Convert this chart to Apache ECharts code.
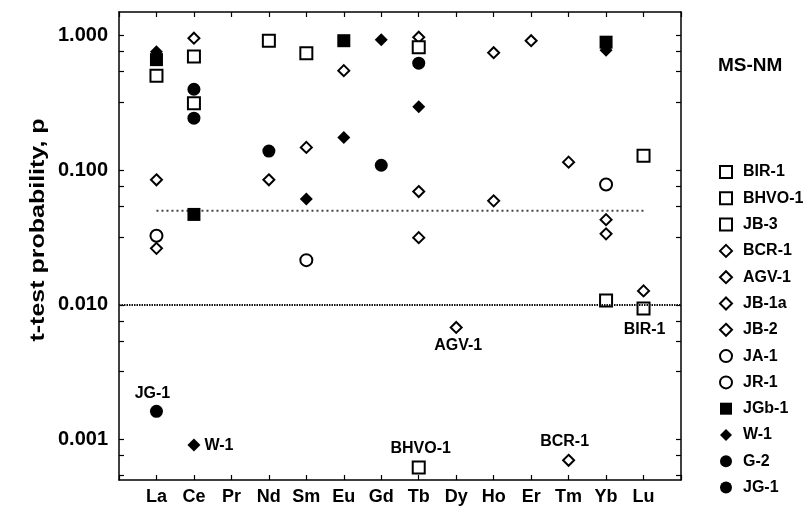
<!DOCTYPE html>
<html><head><meta charset="utf-8">
<script src="https://cdn.jsdelivr.net/npm/echarts@6/dist/echarts.min.js"></script>
<style>html,body{margin:0;padding:0;background:#fff}#c{width:805px;height:510px}</style>
</head><body><div id="c"></div>
<script>
// ---- data ----
const categories = ['', 'La','Ce','Pr','Nd','Sm','Eu','Gd','Tb','Dy','Ho','Er','Tm','Yb','Lu', ' '];
const yTickLabels = [0.001, 0.01, 0.1, 1];
const yMinorTicks = [0.76, 0.54, 0.32, 0.076, 0.054, 0.032, 0.0076, 0.0054, 0.0032, 0.00076, 0.00054];
const thresholdLow = 0.01;
const thresholdHigh = 0.05;
const thresholdHighRange = ['La', 'Lu'];

const BIR1  = [['Ce',0.315],['Yb',0.0108],['Lu',0.0094]];
const BHVO1 = [['La',0.505],['Nd',0.918],['Tb',0.00062]];
const JB3   = [['Ce',0.70],['Sm',0.742],['Tb',0.82],['Lu',0.128]];
const BCR1  = [['La',0.085],['Tb',0.0695],['Tm',0.00070],['Yb',0.043]];
const AGV1  = [['La',0.0263],['Tb',0.0316],['Dy',0.0068],['Ho',0.0593],['Lu',0.0127]];
const JB1a  = [['Ce',0.958],['Sm',0.148],['Er',0.918],['Tm',0.115]];
const JB2   = [['Nd',0.085],['Eu',0.55],['Tb',0.975],['Ho',0.748],['Yb',0.0337]];
const JA1   = [['La',0.0326],['Yb',0.0784]];
const JR1   = [['Sm',0.0215]];
const JGb1  = [['La',0.664],['Ce',0.047],['Eu',0.918],['Yb',0.895]];
const W1    = [['La',0.761],['Ce',0.00091],['Sm',0.0612],['Eu',0.175],['Gd',0.934],['Tb',0.297],['Yb',0.78]];
const G2    = [['Ce',0.40],['Nd',0.139],['Tb',0.625]];
const JG1   = [['La',0.00162],['Ce',0.244],['Gd',0.109]];

// labelled points (which sample is annotated at which element)
const annotated = {'JG-1':'La','W-1':'Ce','AGV-1':'Dy','BHVO-1':'Tb','BCR-1':'Tm','BIR-1':'Lu'};

// ---- styles ----
const FONT = '"Liberation Sans", Arial, Helvetica, sans-serif';
const INK = '#000';
const labelStyle = {
  'JG-1':  {position:'top', distance:3, offset:[-4,0]},
  'W-1':   {position:'right', distance:4, offset:[0,1]},
  'AGV-1': {position:'bottom', distance:4, offset:[2,0]},
  'BHVO-1':{position:'top', distance:4, offset:[2,0]},
  'BCR-1': {position:'top', distance:4, offset:[-4,0]},
  'BIR-1': {position:'bottom', distance:6, offset:[1,0]}
};
const open = {color:'#fff', borderColor:INK, borderWidth:2, opacity:1};
const filled = {color:INK, borderColor:INK, borderWidth:0, opacity:1};

const seriesDefs = [
  {name:'BIR-1', data:BIR1, symbol:'rect', size:12, style:open, z:4},
  {name:'BHVO-1', data:BHVO1, symbol:'rect', size:12, style:open, z:4},
  {name:'JB-3', data:JB3, symbol:'rect', size:12, style:open, z:4},
  {name:'BCR-1', data:BCR1, symbol:'diamond', size:11, style:open, z:3},
  {name:'AGV-1', data:AGV1, symbol:'diamond', size:11, style:open, z:3},
  {name:'JB-1a', data:JB1a, symbol:'diamond', size:11, style:open, z:3},
  {name:'JB-2', data:JB2, symbol:'diamond', size:11, style:open, z:3},
  {name:'JA-1', data:JA1, symbol:'circle', size:12, style:open, z:3},
  {name:'JR-1', data:JR1, symbol:'circle', size:12, style:open, z:3},
  {name:'JGb-1', data:JGb1, symbol:'rect', size:13, style:filled, z:2},
  {name:'W-1', data:W1, symbol:'diamond', size:13, style:filled, z:2},
  {name:'G-2', data:G2, symbol:'circle', size:13, style:filled, z:2},
  {name:'JG-1', data:JG1, symbol:'circle', size:13, style:filled, z:2}
];

const series = seriesDefs.map(d => ({
  type:'scatter', name:d.name, symbol:d.symbol, symbolSize:d.size, z:d.z,
  itemStyle:d.style,
  emphasis:{disabled:true},
  data:d.data.map(([c,v]) => {
    if (annotated[d.name] === c) {
      const ls = labelStyle[d.name];
      return {value:[c,v], label:{show:true, formatter:d.name, position:ls.position,
        distance:ls.distance, offset:ls.offset, color:INK, opacity:1, fontFamily:FONT,
        fontWeight:'bold', fontSize:16}};
    }
    return [c,v];
  })
}));

series.push({
  type:'line', name:'p=0.05', silent:true, showSymbol:false, symbol:'none', z:1,
  data:thresholdHighRange.map(c => [c, thresholdHigh]),
  lineStyle:{color:'#444', width:2, type:[2,3]},
  markLine:{silent:true, symbol:'none', label:{show:false},
    lineStyle:{color:'#111', width:2, type:[1.5,1]},
    data:[{yAxis:thresholdLow}]}
});

const yBase = {
  type:'log', logBase:10, min:0.0005, max:1.5,
  axisLine:{show:true, lineStyle:{color:INK, width:1.5}},
  splitLine:{show:false}
};

const option = {
  animation:false,
  backgroundColor:'#fff',
  grid:{left:119, right:124, top:12, bottom:30},
  title:{text:'MS-NM', left:713, top:51,
    textStyle:{fontFamily:FONT, fontWeight:'bold', fontSize:19, color:INK}},
  legend:{
    data:seriesDefs.map(d => d.name), orient:'vertical', left:719, top:164,
    padding:0, itemWidth:12, itemHeight:12, itemGap:10.3,
    textStyle:{fontFamily:FONT, fontWeight:'bold', fontSize:16, color:INK, padding:[0,0,0,6]},
    selectedMode:false
  },
  xAxis:[
    {type:'category', data:categories, boundaryGap:false,
     axisLine:{show:true, lineStyle:{color:INK, width:1.5}},
     axisTick:{show:true, inside:true, length:5, lineStyle:{color:INK, width:1.2}},
     axisLabel:{fontFamily:FONT, fontWeight:'bold', fontSize:18, color:INK, margin:8, interval:0},
     splitLine:{show:false}},
    {type:'category', data:categories, boundaryGap:false, position:'top',
     axisLine:{show:true, lineStyle:{color:INK, width:1.5}},
     axisTick:{show:true, inside:true, length:5, lineStyle:{color:INK, width:1.2}},
     axisLabel:{show:false}, splitLine:{show:false}}
  ],
  yAxis:[
    Object.assign({}, yBase, {position:'left',
      axisTick:{show:true, inside:true, length:5, lineStyle:{color:INK, width:1.2},
        customValues:yTickLabels.concat(yMinorTicks)},
      axisLabel:{fontFamily:FONT, fontWeight:'bold', fontSize:20, color:INK, margin:11,
        customValues:yTickLabels, formatter:v => Number(v).toFixed(3)}}),
    Object.assign({}, yBase, {position:'right',
      axisTick:{show:true, inside:true, length:5, lineStyle:{color:INK, width:1.2},
        customValues:yTickLabels.concat(yMinorTicks)},
      axisLabel:{show:false}})
  ],
  graphic:[{
    type:'text', x:38, y:230, rotation:Math.PI/2, scaleX:1.25, scaleY:1,
    style:{text:'t-test probability, p', font:'bold 20px ' + FONT, fill:INK,
      textAlign:'center', textVerticalAlign:'middle'}
  }],
  series:series
};

const chart = echarts.init(document.getElementById('c'), null, {renderer:'canvas'});
chart.setOption(option);
</script>
</body></html>
